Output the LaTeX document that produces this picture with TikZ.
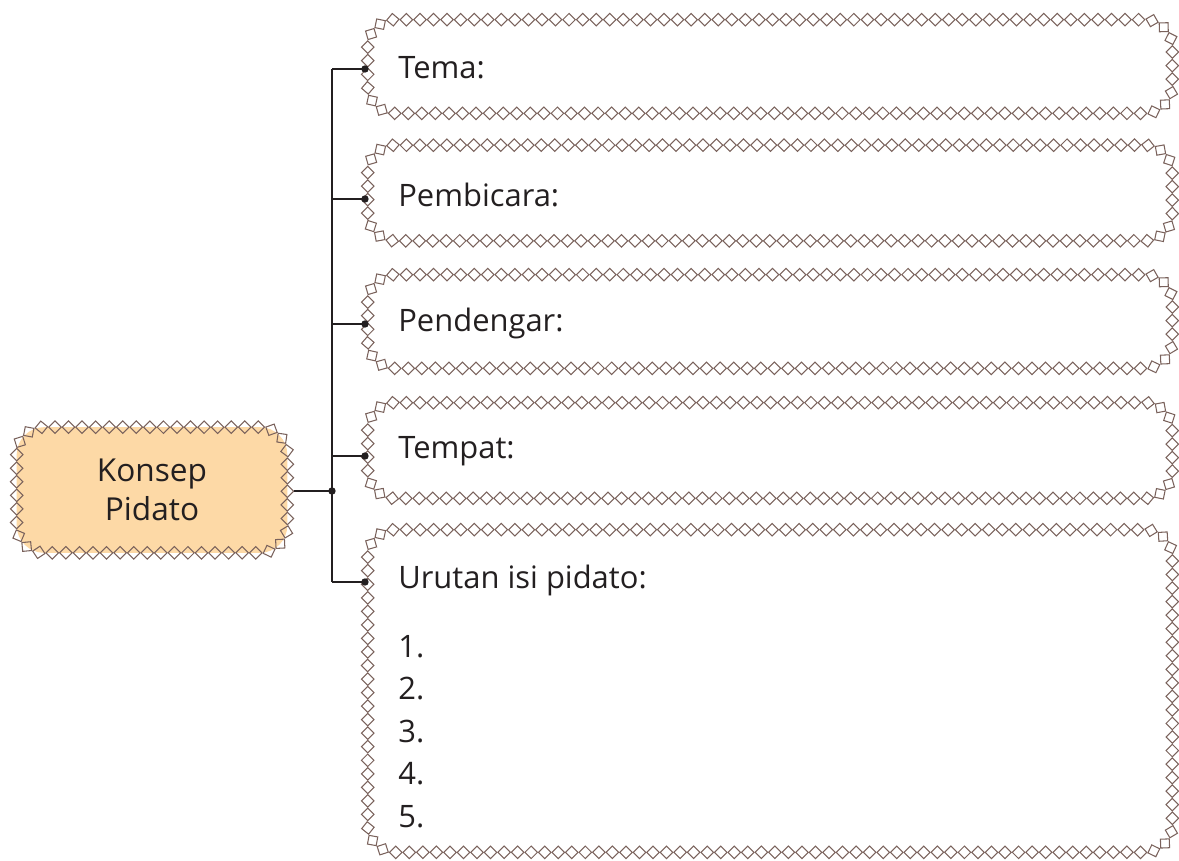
\documentclass[tikz,border=0pt]{standalone}
\usepackage{fontspec}
\setmainfont{Open Sans}
\usetikzlibrary{decorations.markings}
\definecolor{dcol}{HTML}{7A625C}
\definecolor{peach}{HTML}{FDD9A6}
\definecolor{ink}{HTML}{231F20}
\tikzset{
  diamondchain/.style 2 args={
    decorate,
    decoration={markings,
      mark=between positions 0 and #2 step #1 with {
        \pgfsetcornersarced{\pgfpointorigin}%
        \pgfsetlinewidth{0.6pt}%
        \pgfsetstrokecolor{dcol}%
        \pgfpathmoveto{\pgfpoint{-0.125cm}{0cm}}%
        \pgfpathlineto{\pgfpoint{0cm}{0.125cm}}%
        \pgfpathlineto{\pgfpoint{0.125cm}{0cm}}%
        \pgfpathlineto{\pgfpoint{0cm}{-0.125cm}}%
        \pgfpathclose
        \pgfusepath{stroke}%
      }}
  },
  boxarea/.style={draw=none, shape=rectangle, inner sep=0pt},
  lbl/.style={font=\fontsize{17.6}{21}\selectfont, text=ink, inner sep=0pt, anchor=west},
  conn/.style={ink, line width=0.8pt},
  dot/.style={circle, fill=ink, inner sep=0pt, minimum size=4.2pt},
}
\begin{document}
\begin{tikzpicture}[x=0.02cm,y=-0.02cm]
\useasboundingbox (0,0) rectangle (1179,861);
% box areas
\node[boxarea, minimum width=16.08cm, minimum height=1.86cm] (tema) at (770,66.5) {};
\node[boxarea, minimum width=16.08cm, minimum height=1.9cm] (pemb) at (770,193) {};
\node[boxarea, minimum width=16.08cm, minimum height=1.86cm] (pend) at (770,321.5) {};
\node[boxarea, minimum width=16.08cm, minimum height=1.9cm] (temp) at (770,450.5) {};
\node[boxarea, minimum width=16.08cm, minimum height=6.44cm] (urut) at (770,691) {};
\node[boxarea, minimum width=5.4cm, minimum height=2.5cm] (konsep) at (152,490) {};
\fill[peach, rounded corners=0.55cm] (konsep.north west) rectangle (konsep.south east);
\foreach \b/\s/\e in {tema/0.0077519/0.997,pemb/0.0076923/0.997,pend/0.0077519/0.997,temp/0.0076923/0.997,urut/0.0061350/0.997,konsep/0.0181818/0.99}{
  \path[diamondchain={\s}{\e}, rounded corners=0.55cm] (\b.north west) rectangle (\b.south east);
}
% texts
\node[lbl] (ttema) at (398,68) {Tema:};
\node[lbl] (tpemb) at (398,195) {Pembicara:};
\node[lbl] (tpend) at (398,323) {Pendengar:};
\node[lbl] (ttemp) at (398,451) {Tempat:};
\node[lbl, anchor=base west] (turut) at (398,588) {Urutan isi pidato:};
\foreach \i/\y in {1/657,2/699.5,3/742,4/784.5,5/827}{
  \node[lbl, anchor=base west] (num\i) at (398,\y) {\i.};
}
\node[font=\fontsize{18}{22.5}\selectfont, text=ink, align=center] (tkonsep) at (konsep.center) {Konsep\\Pidato};
% connectors
\coordinate (trunktop) at (332,69);
\coordinate (trunkbot) at (332,582);
\coordinate (junc) at (332,491);
\coordinate (kout) at (294,491);
\draw[conn] (trunktop) -- (trunkbot);
\draw[conn] (kout) -- (junc);
\node[dot] (djunc) at (junc) {};
\foreach \n/\y in {tema/69,pemb/199,pend/324,temp/456,urut/582}{
  \coordinate (c\n) at (332,\y);
  \coordinate (e\n) at (365,\y);
  \draw[conn] (c\n) -- (e\n);
  \node[dot] (d\n) at (e\n) {};
}
\end{tikzpicture}
\end{document}
